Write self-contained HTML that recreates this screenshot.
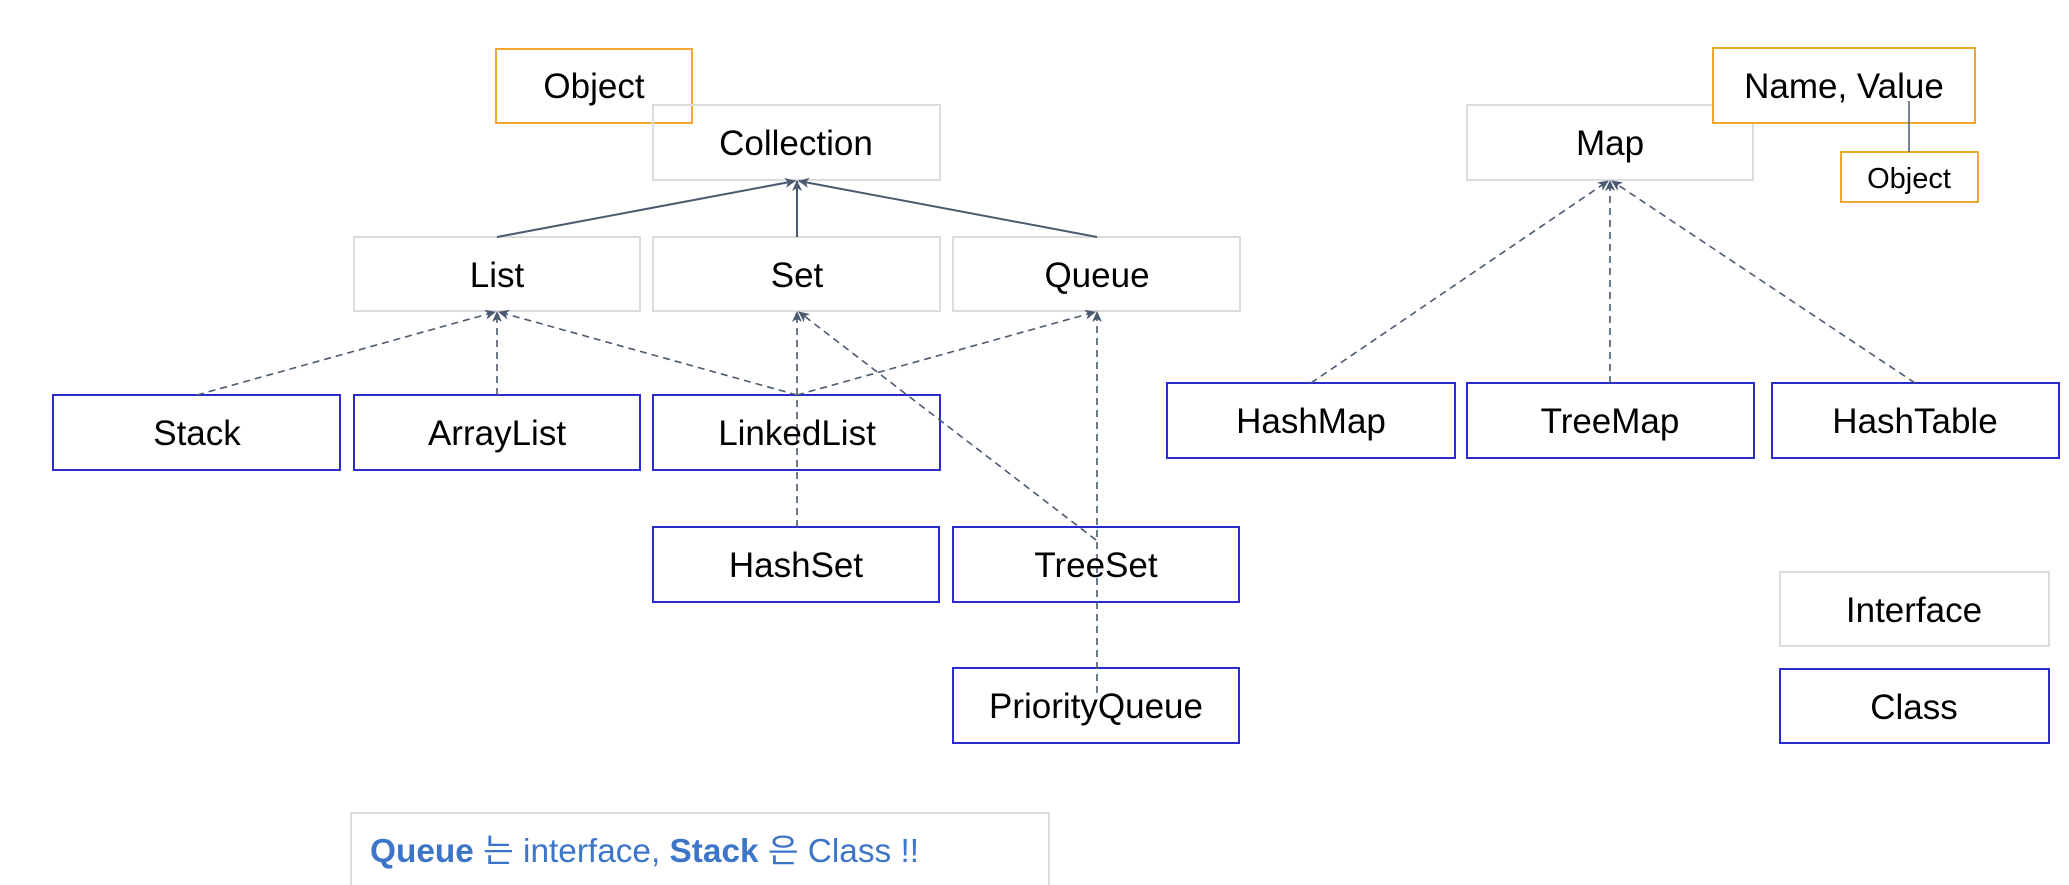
<!DOCTYPE html>
<html><head><meta charset="utf-8"><style>
html,body{margin:0;padding:0;background:#fff;}
svg{display:block;}
text{font-family:"Liberation Sans",Arial,sans-serif;fill:#000;}
</style></head><body>
<svg width="2069" height="885" viewBox="0 0 2069 885" xmlns="http://www.w3.org/2000/svg">
<defs>
<marker id="ah" markerWidth="12" markerHeight="12" refX="10" refY="5" orient="auto" markerUnits="userSpaceOnUse">
<path d="M0,0 L11,5 L0,10 L3,5 z" fill="#4a5a70"/>
</marker>
</defs>
<g fill="none" stroke-width="2">
<rect x="496" y="49" width="196" height="74" stroke="#f0a830"/>
<rect x="653" y="105" width="287" height="75" stroke="#dcdcdc"/>
<rect x="354" y="237" width="286" height="74" stroke="#dcdcdc"/>
<rect x="653" y="237" width="287" height="74" stroke="#dcdcdc"/>
<rect x="953" y="237" width="287" height="74" stroke="#dcdcdc"/>
<rect x="1467" y="105" width="286" height="75" stroke="#dcdcdc"/>
<rect x="1780" y="572" width="269" height="74" stroke="#dcdcdc"/>
<rect x="351" y="813" width="698" height="80" stroke="#dcdcdc"/>
<g stroke="#2a2ad0">
<rect x="53" y="395" width="287" height="75"/>
<rect x="354" y="395" width="286" height="75"/>
<rect x="653" y="395" width="287" height="75"/>
<rect x="653" y="527" width="286" height="75"/>
<rect x="953" y="527" width="286" height="75"/>
<rect x="953" y="668" width="286" height="75"/>
<rect x="1167" y="383" width="288" height="75"/>
<rect x="1467" y="383" width="287" height="75"/>
<rect x="1772" y="383" width="287" height="75"/>
<rect x="1780" y="669" width="269" height="74"/>
</g>
</g>
<rect x="1713" y="48" width="262" height="75" fill="#fff" stroke="#f0a830" stroke-width="2"/>
<rect x="1841" y="152" width="137" height="50" fill="#fff" stroke="#f0a830" stroke-width="2"/>
<line x1="1909" y1="101" x2="1909" y2="152" stroke="#4a5a70" stroke-width="1.5"/>
<g stroke="#4a5a70" stroke-width="2" fill="none">
<line x1="497" y1="237" x2="795" y2="181" marker-end="url(#ah)"/>
<line x1="797" y1="237" x2="797" y2="181" marker-end="url(#ah)"/>
<line x1="1097" y1="237" x2="799" y2="181" marker-end="url(#ah)"/>
</g>
<g stroke="#4a5a70" stroke-width="1.6" fill="none" stroke-dasharray="7,5">
<line x1="197" y1="395" x2="495" y2="312" marker-end="url(#ah)"/>
<line x1="497" y1="395" x2="497" y2="312" marker-end="url(#ah)"/>
<line x1="797" y1="395" x2="499" y2="312" marker-end="url(#ah)"/>
<line x1="797" y1="395" x2="1095" y2="312" marker-end="url(#ah)"/>
<line x1="797" y1="527" x2="797" y2="312" marker-end="url(#ah)"/>
<line x1="1096" y1="540" x2="799" y2="312" marker-end="url(#ah)"/>
<line x1="1097" y1="693" x2="1097" y2="312" marker-end="url(#ah)"/>
<line x1="1311" y1="383" x2="1608" y2="181" marker-end="url(#ah)"/>
<line x1="1610" y1="383" x2="1610" y2="181" marker-end="url(#ah)"/>
<line x1="1915" y1="383" x2="1612" y2="181" marker-end="url(#ah)"/>
</g>
<g font-size="35" text-anchor="middle">
<text x="594" y="98">Object</text>
<text x="796" y="155">Collection</text>
<text x="497" y="287">List</text>
<text x="797" y="287">Set</text>
<text x="1097" y="287">Queue</text>
<text x="197" y="445">Stack</text>
<text x="497" y="445">ArrayList</text>
<text x="797" y="445">LinkedList</text>
<text x="796" y="577">HashSet</text>
<text x="1096" y="577">TreeSet</text>
<text x="1096" y="718">PriorityQueue</text>
<text x="1311" y="433">HashMap</text>
<text x="1610" y="433">TreeMap</text>
<text x="1915" y="433">HashTable</text>
<text x="1610" y="155">Map</text>
<text x="1844" y="98">Name, Value</text>
<text x="1914" y="622">Interface</text>
<text x="1914" y="719">Class</text>
<text x="1909" y="188" font-size="29">Object</text>
</g>
<text x="370" y="862" font-size="33" textLength="549" lengthAdjust="spacingAndGlyphs" style="fill:#3d75c8;font-family:'Liberation Sans','Noto Sans CJK KR',sans-serif;"><tspan font-weight="bold" style="fill:#3d75c8">Queue</tspan> 는 interface, <tspan font-weight="bold" style="fill:#3d75c8">Stack</tspan> 은 Class !!</text>
</svg>
</body></html>
